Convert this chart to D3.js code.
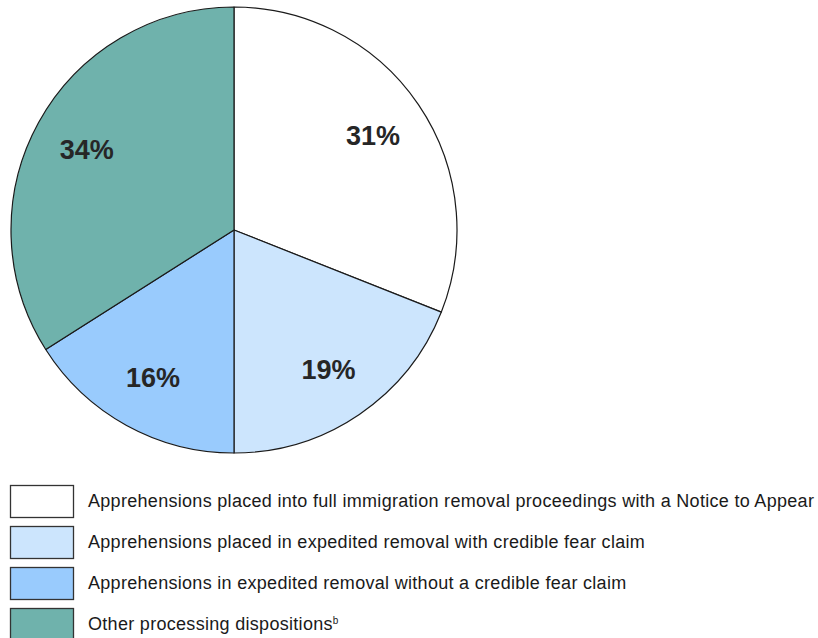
<!DOCTYPE html>
<html>
<head>
<meta charset="utf-8">
<script src="https://cdn.jsdelivr.net/npm/d3@7"></script>
<style>
  html, body { margin: 0; padding: 0; background: #ffffff; }
  svg { display: block; }
</style>
</head>
<body>
<svg id="chart" width="818" height="638"></svg>
<script>
// Shares of apprehensions by processing disposition (percent)
const categories = [
  "Apprehensions placed into full immigration removal proceedings with a Notice to Appear",
  "Apprehensions placed in expedited removal with credible fear claim",
  "Apprehensions in expedited removal without a credible fear claim",
  "Other processing dispositions"
];
const shares = [31, 19, 16, 34];
const colors = ["#ffffff", "#cce5fd", "#99cbfd", "#6fb2ac"];
const footnoteMarks = ["", "", "", "b"];

const svg = d3.select("#chart");
const cx = 234, cy = 230, radius = 223;

const pie = d3.pie().sort(null).value(d => d);
const arc = d3.arc().innerRadius(0).outerRadius(radius);
const labelArc = d3.arc().innerRadius(168).outerRadius(168);

const g = svg.append("g").attr("transform", `translate(${cx},${cy})`);
const arcs = pie(shares);

g.selectAll("path.slice")
  .data(arcs)
  .join("path")
  .attr("class", "slice")
  .attr("d", arc)
  .attr("fill", (d, i) => colors[i])
  .attr("stroke", "#1a1a1a")
  .attr("stroke-width", 1.2)
  .attr("stroke-linejoin", "round");

g.selectAll("text.pct")
  .data(arcs)
  .join("text")
  .attr("class", "pct")
  .attr("x", d => labelArc.centroid(d)[0])
  .attr("y", d => labelArc.centroid(d)[1])
  .attr("text-anchor", "middle")
  .attr("dy", "0.36em")
  .attr("font-family", "Liberation Sans, Arial, sans-serif")
  .attr("font-weight", "bold")
  .attr("font-size", 27)
  .attr("fill", "#262626")
  .text(d => d.data + "%");

// Legend
const legend = svg.append("g").attr("transform", "translate(10,485)");
const rowH = 41;
const items = legend.selectAll("g.item")
  .data(categories)
  .join("g")
  .attr("class", "item")
  .attr("transform", (d, i) => `translate(0,${i * rowH})`);

items.append("rect")
  .attr("x", 0.5).attr("y", 0.5)
  .attr("width", 63).attr("height", 32)
  .attr("fill", (d, i) => colors[i])
  .attr("stroke", "#333333")
  .attr("stroke-width", 1.3);

const labels = items.append("text")
  .attr("x", 78)
  .attr("y", 22)
  .attr("font-family", "Liberation Sans, Arial, sans-serif")
  .attr("font-size", 18)
  .attr("letter-spacing", 0.3)
  .attr("fill", "#1a1a1a");
labels.append("tspan").text(d => d);
labels.append("tspan")
  .attr("font-size", 10)
  .attr("dy", -6)
  .text((d, i) => footnoteMarks[i]);
</script>
</body>
</html>
